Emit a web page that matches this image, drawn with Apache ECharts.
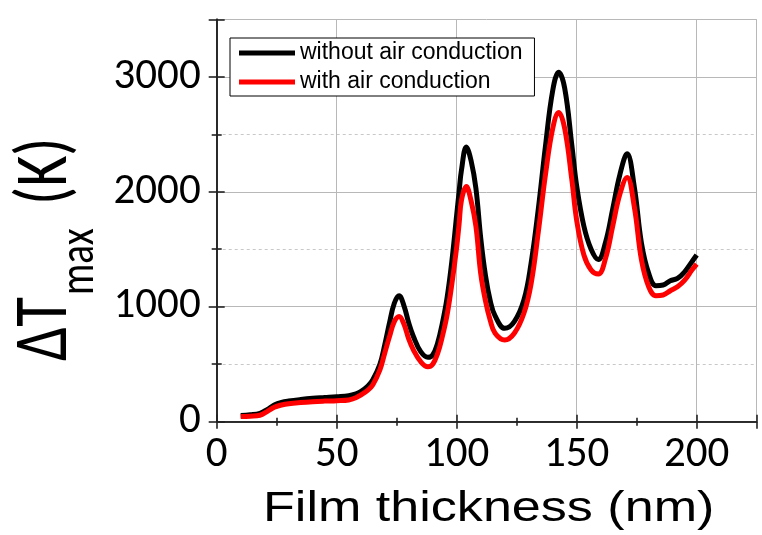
<!DOCTYPE html>
<html>
<head>
<meta charset="utf-8">
<script src="https://cdn.jsdelivr.net/npm/echarts@6/dist/echarts.min.js"></script>
<style>html,body{margin:0;padding:0;background:#fff}#c{width:762px;height:535px}</style>
</head>
<body>
<div id="c"></div>
<script>
// Film thickness (nm)
const thickness = [10,14,18,21,24,27,30,35,40,45,50,55,58,60,63,65,68,70,72,74,76,78,80,82,85,88,90,92,94,96,98,100,101,102,104,106,108,110,112,114,116,120,124,128,131,134,137,140,142.5,145,148,150,153,156,159,162,165,168,171,174,177,180,183,186,189,192,195,198,200];
// ΔTmax without air conduction (K)
const withoutAir = [54,60,73,105,145,168,180,193,203,210,217,226,242,261,310,363,500,667,860,1030,1095,1010,860,739,609,560,580,680,855,1080,1400,1800,2000,2190,2390,2270,2030,1600,1270,1050,920,812,870,1058,1380,1850,2400,2880,3040,2900,2400,2050,1700,1500,1410,1560,1850,2150,2330,2043,1551,1290,1183,1189,1226,1247,1304,1391,1450];
// ΔTmax with air conduction (K)
const withAir = [45,48,56,88,125,145,157,167,174,179,183,189,208,232,275,319,450,595,740,870,915,850,720,623,522,478,500,590,739,930,1200,1520,1720,1928,2045,1920,1700,1290,1050,880,769,710,769,943,1200,1650,2150,2550,2690,2550,2100,1750,1450,1320,1284,1420,1700,1980,2125,1870,1406,1174,1096,1102,1139,1174,1232,1319,1371];
const seriesNames = ['without air conduction', 'with air conduction'];
const xTicks = [0, 50, 100, 150, 200];
const yTicks = [0, 1000, 2000, 3000];

const chart = echarts.init(document.getElementById('c'), null, {renderer: 'canvas'});
const pair = (ys) => thickness.map((x, i) => [x, ys[i]]);
const frame = {lineStyle: {color: '#222', width: 1.6}};
const gridLine = {show: true, lineStyle: {color: '#b8b8b8', width: 1}};
const tickFont = {fontFamily: 'Carlito', fontSize: 43, color: '#000'};
const tick = (len) => ({show: true, inside: false, length: len, lineStyle: {color: '#222', width: 1.6}});
const minor = (len) => ({show: true, splitNumber: 2, length: len, lineStyle: {color: '#222', width: 1.6}});

chart.setOption({
  animation: false,
  backgroundColor: '#fff',
  grid: {left: 216.7, right: 5.3, top: 19.3, bottom: 113.3, containLabel: false},
  legend: {
    orient: 'vertical', left: 230, top: 38,
    data: seriesNames,
    icon: 'rect',
    itemWidth: 56, itemHeight: 5, itemGap: 6,
    padding: [3.5, 12, 2.5, 9],
    backgroundColor: '#fff', borderColor: '#000', borderWidth: 1, borderRadius: 0,
    textStyle: {fontFamily: 'Liberation Sans', fontSize: 23, color: '#000', lineHeight: 23}
  },
  xAxis: [{
    type: 'value', min: 0, max: 225, interval: 50,
    axisLine: frame, axisTick: tick(7), minorTick: minor(4),
    splitLine: gridLine,
    axisLabel: Object.assign({margin: 12, formatter: v => xTicks.includes(v) ? String(v) : ''}, tickFont)
  }, {
    type: 'value', position: 'top', min: 0, max: 225, interval: 50,
    axisLine: frame, axisTick: tick(7), minorTick: minor(4),
    splitLine: {show: false}, axisLabel: {show: false}
  }],
  yAxis: [{
    type: 'value', min: 0, max: 3500, interval: 1000,
    axisLine: frame, axisTick: tick(8), minorTick: minor(5),
    splitLine: gridLine,
    minorSplitLine: {show: true, lineStyle: {color: '#c8c8c8', width: 1, type: [3, 3]}},
    axisLabel: Object.assign({margin: 16, formatter: v => yTicks.includes(v) ? String(v) : ''}, tickFont)
  }, {
    type: 'value', position: 'right', min: 0, max: 3500, interval: 1000,
    axisLine: frame, axisTick: tick(8), minorTick: minor(5),
    splitLine: {show: false}, axisLabel: {show: false}
  }],
  series: [{
    name: seriesNames[0], type: 'line', data: pair(withoutAir),
    smooth: 0.4, symbol: 'none', color: '#000',
    lineStyle: {color: '#000', width: 5}
  }, {
    name: seriesNames[1], type: 'line', data: pair(withAir),
    smooth: 0.4, symbol: 'none', color: '#ff0000',
    lineStyle: {color: '#ff0000', width: 5}
  }],
  graphic: [
    {type: 'text', x: 263, y: 488.5, scaleX: 1.24,
     style: {text: 'Film thickness (nm)', fontFamily: 'Liberation Sans', fontSize: 42, fill: '#000', align: 'left', verticalAlign: 'top'}},
    {type: 'text', x: 47, y: 361, rotation: Math.PI / 2, scaleX: 0.8,
     style: {text: 'ΔT', fontFamily: 'Carlito', fontSize: 76, fill: '#000', align: 'left', verticalAlign: 'middle'}},
    {type: 'text', x: 81, y: 295, rotation: Math.PI / 2, scaleX: 0.8,
     style: {text: 'max', fontFamily: 'Carlito', fontSize: 49, fill: '#000', align: 'left', verticalAlign: 'middle'}},
    {type: 'text', x: 47, y: 205, rotation: Math.PI / 2, scaleX: 0.8,
     style: {text: '(K)', fontFamily: 'Carlito', fontSize: 75, fill: '#000', align: 'left', verticalAlign: 'middle'}}
  ]
});
</script>
</body>
</html>
